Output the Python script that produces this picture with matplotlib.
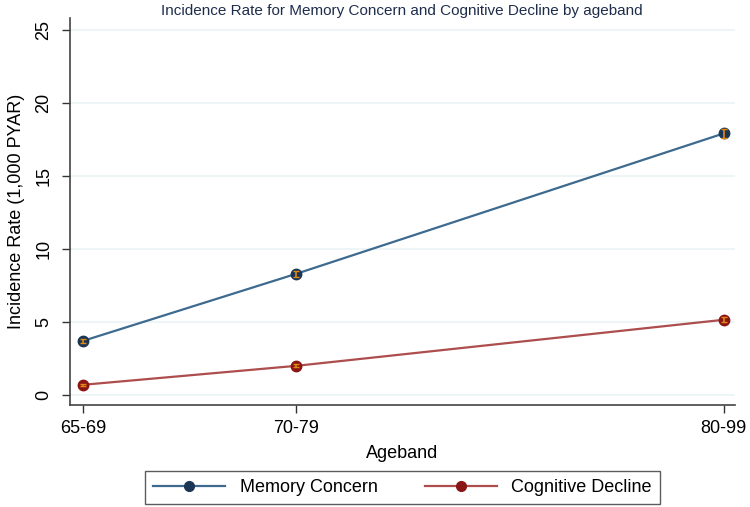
import matplotlib.pyplot as plt
from matplotlib.lines import Line2D

plt.rcParams["font.family"] = ["Liberation Sans", "DejaVu Sans"]

# age band midpoints used as x positions
age_mid = [67, 74.5, 89.5]
age_labels = ["65-69", "70-79", "80-99"]

memory_rate = [3.7, 8.3, 17.9]
memory_err = [0.15, 0.2, 0.3]
cognitive_rate = [0.7, 2.0, 5.15]
cognitive_err = [0.08, 0.1, 0.18]

mc_line, mc_mark = "#3d6a8e", "#1b3557"
cd_line, cd_mark = "#ad4d4d", "#8a1515"
ci_col = "#e08a12"

fig = plt.figure(figsize=(7.5, 5.07), dpi=100)
ax = fig.add_axes([0.0933, 0.2012, 0.8867, 0.7633])

for y, e, lc, mc in [(memory_rate, memory_err, mc_line, mc_mark),
                     (cognitive_rate, cognitive_err, cd_line, cd_mark)]:
    ax.plot(age_mid, y, color=lc, linewidth=1.6, zorder=2)
    ax.plot(age_mid, y, "o", color=mc, markersize=7.5, zorder=3)
    ax.errorbar(age_mid, y, yerr=e, fmt="none", ecolor=ci_col,
                elinewidth=1.2, capsize=2.5, zorder=4)

ax.set_xlim(66.55, 89.9)
ax.set_ylim(-0.68, 25.8)
ax.set_xticks(age_mid)
ax.set_xticklabels(age_labels, fontsize=13)
ax.set_yticks([0, 5, 10, 15, 20, 25])
ax.set_yticklabels(["0", "5", "10", "15", "20", "25"], fontsize=13,
                   rotation=90, va="center")
ax.tick_params(direction="out", length=5.5, width=1, color="#333333")
ax.tick_params(axis="x", pad=5)
ax.tick_params(axis="y", pad=7)
ax.grid(axis="y", color="#e9f2f4", linewidth=1.1, zorder=0)
ax.set_axisbelow(True)

for side in ["top", "right"]:
    ax.spines[side].set_visible(False)
for side in ["left", "bottom"]:
    ax.spines[side].set_color("#444444")
    ax.spines[side].set_linewidth(1.2)

ax.set_xlabel("Ageband", fontsize=13, labelpad=6)
ax.set_ylabel("Incidence Rate (1,000 PYAR)", fontsize=13, labelpad=8)
fig.text(0.536, 0.978,
         "Incidence Rate for Memory Concern and Cognitive Decline by ageband",
         ha="center", va="center", fontsize=11, color="#1f2d4d")

handles = [
    Line2D([0], [0], color=mc_line, linewidth=1.6, marker="o",
           markerfacecolor=mc_mark, markeredgecolor=mc_mark, markersize=7),
    Line2D([0], [0], color=cd_line, linewidth=1.6, marker="o",
           markerfacecolor=cd_mark, markeredgecolor=cd_mark, markersize=7),
]
leg = fig.legend(handles, ["Memory Concern", "Cognitive Decline"],
                 loc="center", bbox_to_anchor=(0.5365, 0.0385), ncol=2,
                 fontsize=13, frameon=True, fancybox=False,
                 handlelength=4.0, columnspacing=2.6, borderpad=0.45,
                 handletextpad=0.8)
leg.get_frame().set_edgecolor("#333333")
leg.get_frame().set_linewidth(1.0)

fig.savefig("out.png", dpi=100)
plt.close(fig)
